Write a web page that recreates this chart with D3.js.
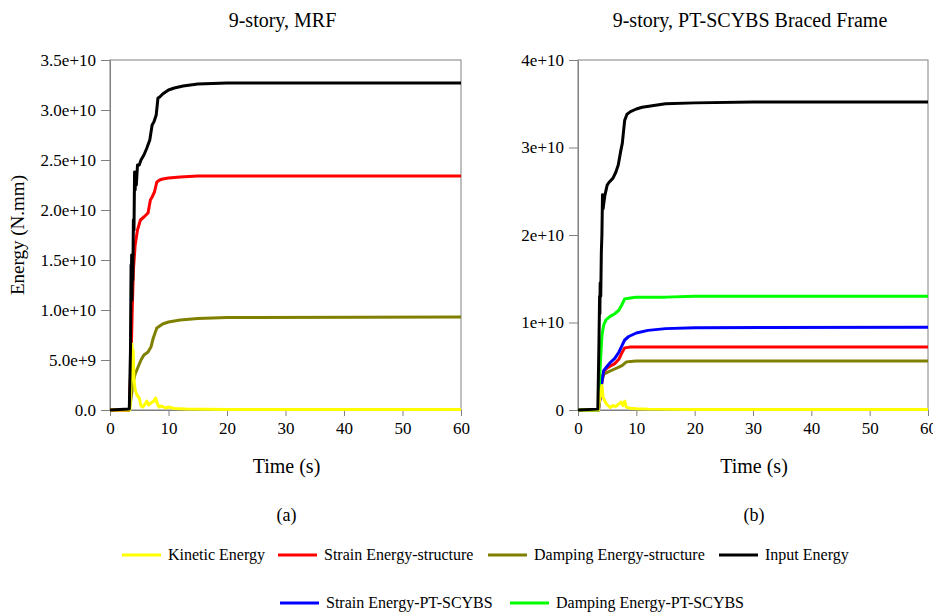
<!DOCTYPE html>
<html><head><meta charset="utf-8">
<script src="https://cdn.jsdelivr.net/npm/d3@7"></script>
<style>body{margin:0;background:#fff;} svg{display:block;} svg text{font-family:"Liberation Serif","Times New Roman",serif;}</style>
</head><body>
<script>
// ---------- DATA ----------
const titles = ["9-story, MRF", "9-story, PT-SCYBS Braced Frame"];
const subLabels = ["(a)", "(b)"];
const xTicks = [0,10,20,30,40,50,60];
const yTicksA = [0,5e9,1e10,1.5e10,2e10,2.5e10,3e10,3.5e10];
const yTickLabelsA = ["0.0","5.0e+9","1.0e+10","1.5e+10","2.0e+10","2.5e+10","3.0e+10","3.5e+10"];
const yTicksB = [0,1e10,2e10,3e10,4e10];
const yTickLabelsB = ["0","1e+10","2e+10","3e+10","4e+10"];

const seriesNames = ["Kinetic Energy","Strain Energy-structure","Damping Energy-structure","Input Energy","Strain Energy-PT-SCYBS","Damping Energy-PT-SCYBS"];
const seriesColors = ["#ffff00","#ff0000","#808000","#000000","#0000ff","#00ff00"];

// Panel (a) MRF
const tInputA = [0,3.3,3.5,3.6,3.65,3.7,3.75,3.8,3.9,4.0,4.1,4.2,4.3,4.4,4.5,4.7,5.0,5.3,5.8,6.3,6.8,7.2,7.5,7.9,8.2,8.5,9.0,10,11,12.5,15,20,30,40,50,60];
const vInputA = [0,0.01,0.6,1.45,1.2,1.55,1.1,1.4,1.3,1.9,1.8,2.38,2.2,2.35,2.25,2.45,2.45,2.5,2.55,2.62,2.7,2.85,2.88,2.95,3.12,3.13,3.16,3.2,3.22,3.24,3.26,3.27,3.27,3.27,3.27,3.27].map(v=>v*1e10);
const tStrainA = [0,3.3,3.6,3.8,4.0,4.3,4.7,5.2,5.8,6.5,6.9,7.2,7.6,8.0,8.5,9,10,12,15,20,60];
const vStrainA = [0,0,0.5,1.0,1.4,1.65,1.8,1.9,1.93,1.97,2.1,2.13,2.18,2.28,2.3,2.31,2.32,2.33,2.34,2.34,2.34].map(v=>v*1e10);
const tDampA = [0,3.3,3.6,3.9,4.3,4.8,5.3,5.8,6.5,7.0,7.4,8.0,9,10,12,15,20,60];
const vDampA = [0,0,1.2,2.6,3.6,4.3,5.0,5.5,5.8,6.3,7.2,8.2,8.6,8.8,9.0,9.15,9.25,9.3].map(v=>v*1e9);
const tKinA = [0,3.4,3.6,3.75,3.85,3.95,4.1,4.3,4.6,5.0,5.3,5.6,6.0,6.3,6.6,7.0,7.5,7.8,8.1,8.4,8.8,9.5,10,11,13,20,60];
const vKinA = [0,0,3,6.6,4.5,6.0,3.0,2.0,1.5,1.2,0.4,0.3,0.6,0.9,0.5,0.7,0.9,1.2,0.6,0.3,0.4,0.2,0.3,0.15,0.1,0.05,0.05].map(v=>v*1e9);

// Panel (b) PT-SCYBS
const tInputB = [0,3.4,3.6,3.7,3.75,3.8,3.9,4.0,4.1,4.2,4.3,4.4,4.6,5.0,5.3,6.0,6.5,6.9,7.3,7.6,8.0,8.4,9.0,10,11,13,15,20,30,60];
const vInputB = [0,0.01,0.8,1.3,1.1,1.45,1.3,1.8,2.0,2.46,2.3,2.35,2.45,2.57,2.6,2.65,2.72,2.8,2.95,3.05,3.31,3.38,3.41,3.44,3.46,3.48,3.5,3.51,3.52,3.52].map(v=>v*1e10);
const tDampPTB = [0,3.5,3.8,4.1,4.4,4.8,5.5,6.3,7.0,7.5,8.0,9,10,15,20,60];
const vDampPTB = [0,0,0.5,0.85,0.97,1.03,1.07,1.1,1.14,1.2,1.27,1.28,1.29,1.29,1.3,1.3].map(v=>v*1e10);
const tStrainPTB = [0,3.5,3.8,4.1,4.4,5.0,5.5,6.3,7.0,7.5,8.0,8.7,10,12,15,20,60];
const vStrainPTB = [0,0,1.5,3.3,4.5,5.0,5.4,5.9,6.6,7.3,8.0,8.4,8.8,9.1,9.3,9.4,9.45].map(v=>v*1e9);
const tStrainB = [0,3.5,3.8,4.1,4.4,5.0,5.5,6.3,7.0,7.5,8.0,9,10,60];
const vStrainB = [0,0,1.5,3.3,4.4,4.8,5.0,5.3,5.8,6.5,7.1,7.2,7.2,7.2].map(v=>v*1e9);
const tDampB = [0,3.5,3.8,4.1,4.4,5.0,6.0,7.0,7.6,8.3,9,10,15,60];
const vDampB = [0,0,1.5,3.2,4.1,4.3,4.6,4.9,5.1,5.5,5.55,5.6,5.6,5.6].map(v=>v*1e9);
const tKinB = [0,3.5,3.7,3.9,4.1,4.3,4.6,5.0,5.5,6.0,6.5,7.0,7.4,7.7,8.0,8.3,9,10,12,20,60];
const vKinB = [0,0,1.2,2.2,2.8,1.5,1.0,0.6,0.3,0.5,0.4,0.7,0.9,0.5,1.0,0.3,0.2,0.15,0.1,0.05,0.05].map(v=>v*1e9);

// ---------- DRAW ----------
const W = 933, H = 615;
const svg = d3.select("body").append("svg").attr("width", W).attr("height", H);

const zip = (t, v) => t.map((x, i) => [x, v[i]]);

const panels = [
  { x0:110, x1:461, yMax:3.5e10, ticks:yTicksA, labels:yTickLabelsA, title:titles[0], sub:subLabels[0],
    series:[ [2,tDampA,vDampA],[1,tStrainA,vStrainA],[0,tKinA,vKinA],[3,tInputA,vInputA] ] },
  { x0:578, x1:928, yMax:4e10, ticks:yTicksB, labels:yTickLabelsB, title:titles[1], sub:subLabels[1],
    series:[ [2,tDampB,vDampB],[1,tStrainB,vStrainB],[4,tStrainPTB,vStrainPTB],[5,tDampPTB,vDampPTB],[0,tKinB,vKinB],[3,tInputB,vInputB] ] }
];
const yTop = 60, yBot = 410;
const axisColor = "#808080";

panels.forEach(p => {
  const x = d3.scaleLinear().domain([0,60]).range([p.x0, p.x1]);
  const y = d3.scaleLinear().domain([0,p.yMax]).range([yBot, yTop]);
  const g = svg.append("g");

  g.append("rect").attr("x", p.x0).attr("y", yTop).attr("width", p.x1-p.x0).attr("height", yBot-yTop)
    .attr("fill","none").attr("stroke", axisColor).attr("stroke-width",1);

  const xa = g.append("g").attr("transform",`translate(0,${yBot})`)
    .call(d3.axisBottom(x).tickValues(xTicks).tickSize(6).tickSizeOuter(0).tickPadding(6).tickFormat(d3.format("d")));
  const ya = g.append("g").attr("transform",`translate(${p.x0},0)`)
    .call(d3.axisLeft(y).tickValues(p.ticks).tickSize(9).tickSizeOuter(0).tickPadding(5).tickFormat((d,i)=>p.labels[i]));
  [xa, ya].forEach(a => {
    a.attr("font-family", null).attr("font-size", null);
    a.select(".domain").attr("stroke", axisColor);
    a.selectAll(".tick line").attr("stroke", axisColor);
    a.selectAll("text").attr("fill","#000").style("font-size","17px");
  });

  const line = d3.line().x(d => x(d[0])).y(d => y(d[1]));
  p.series.forEach(([ci, t, v]) => {
    g.append("path").datum(zip(t, v)).attr("d", line)
      .attr("fill","none").attr("stroke", seriesColors[ci]).attr("stroke-width",3)
      .attr("stroke-linejoin","round");
  });

  const cx = (p.x0 + p.x1) / 2;
  g.append("text").attr("x", cx - 3).attr("y", 27).attr("text-anchor","middle")
    .style("font-size","20px").text(p.title);
  g.append("text").attr("x", cx + 1).attr("y", 473).attr("text-anchor","middle")
    .style("font-size","20px").text("Time (s)");
  g.append("text").attr("x", cx + 1).attr("y", 521).attr("text-anchor","middle")
    .style("font-size","18px").text(p.sub);
});

svg.append("text").attr("transform","translate(24,235) rotate(-90)").attr("text-anchor","middle")
  .style("font-size","19px").text("Energy (N.mm)");

const legendPos = [[122,555],[278,555],[488,555],[719,555],[280,603],[510,603]];
seriesNames.forEach((name, i) => {
  const [lx, ly] = legendPos[i];
  svg.append("line").attr("x1", lx).attr("x2", lx+39).attr("y1", ly).attr("y2", ly)
    .attr("stroke", seriesColors[i]).attr("stroke-width",3);
  svg.append("text").attr("x", lx+46).attr("y", ly+5).style("font-size","16px").text(name);
});
</script>
</body></html>
